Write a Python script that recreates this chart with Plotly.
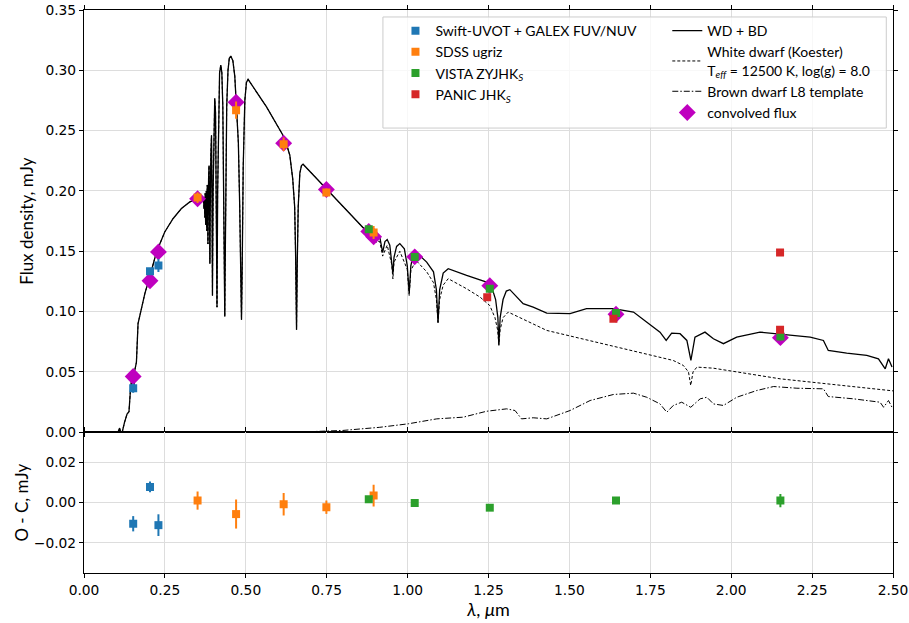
import plotly.graph_objects as go

# ---------------- data ----------------
# Observed photometry (wavelength in micron, flux in mJy)
swift_lam = [0.152, 0.204, 0.230]
swift_flux = [0.0365, 0.1334, 0.1383]
swift_err = [0.0038, 0.0027, 0.0054]
swift_oc = [-0.0105, 0.0078, -0.0112]

sdss_lam = [0.351, 0.470, 0.617, 0.749, 0.895]
sdss_flux = [0.1945, 0.2670, 0.2388, 0.1987, 0.1655]
sdss_err = [0.0045, 0.0072, 0.0056, 0.0033, 0.0054]
sdss_oc = [0.0010, -0.0057, -0.0008, -0.0023, 0.0035]

vista_lam = [0.880, 1.022, 1.254, 1.644, 2.152]
vista_flux = [0.1682, 0.1452, 0.1190, 0.0988, 0.0794]
vista_err = [0.0010, 0.0010, 0.0010, 0.0012, 0.0033]
vista_oc = [0.0017, -0.0002, -0.0025, 0.0010, 0.0010]

panic_lam = [1.246, 1.636, 2.151, 2.151]
panic_flux = [0.1120, 0.0941, 0.1490, 0.0850]

conv_lam = [0.152, 0.204, 0.230, 0.351, 0.470, 0.617, 0.749, 0.880, 0.895,
            1.022, 1.254, 1.644, 2.152]
conv_flux = [0.0462, 0.1256, 0.1495, 0.1935, 0.2735, 0.2396, 0.2012, 0.1665,
             0.1620, 0.1454, 0.1215, 0.0978, 0.0784]

# Model WD + BD (solid)
tot_lam = [0.105, 0.110, 0.113, 0.118, 0.125, 0.133, 0.139, 0.141, 0.143, 0.148,
           0.150, 0.152, 0.154, 0.156, 0.162, 0.167, 0.177, 0.188, 0.203, 0.224,
           0.2495, 0.275, 0.301, 0.327, 0.3526, 0.365, 0.368, 0.370, 0.371, 0.372,
           0.3735, 0.3745, 0.376, 0.377, 0.378, 0.3795, 0.3805, 0.381, 0.3825, 0.383,
           0.3838, 0.385, 0.3865, 0.388, 0.389, 0.390, 0.392, 0.394, 0.3955, 0.3965,
           0.397, 0.3975, 0.399, 0.401, 0.404, 0.4065, 0.409, 0.4105, 0.411, 0.4115,
           0.413, 0.416, 0.419, 0.4227, 0.426, 0.429, 0.432, 0.434, 0.435, 0.436,
           0.438, 0.441, 0.445, 0.449, 0.4536, 0.460, 0.466, 0.472, 0.477, 0.481,
           0.4845, 0.4867, 0.489, 0.492, 0.497, 0.502, 0.507, 0.564, 0.6206, 0.636,
           0.645, 0.651, 0.654, 0.6568, 0.659, 0.662, 0.667, 0.672, 0.677, 0.729,
           0.750, 0.800, 0.840, 0.860, 0.875, 0.8863, 0.893, 0.9015, 0.907, 0.914,
           0.9229, 0.930, 0.937, 0.945, 0.951, 0.9546, 0.958, 0.966, 0.976, 0.990,
           0.999, 1.0049, 1.010, 1.018, 1.0257, 1.059, 1.080, 1.089, 1.094, 1.099,
           1.110, 1.1255, 1.1824, 1.244, 1.260, 1.272, 1.279, 1.282, 1.286, 1.295,
           1.305, 1.316, 1.357, 1.388, 1.430, 1.502, 1.553, 1.636, 1.698, 1.739,
           1.780, 1.799, 1.816, 1.842, 1.863, 1.8755, 1.888, 1.919, 1.945, 1.976,
           2.017, 2.089, 2.151, 2.192, 2.244, 2.285, 2.300, 2.357, 2.419, 2.455,
           2.476, 2.486, 2.497]
tot_flux = [0.0, 0.0035, 0.0, 0.0, 0.008, 0.015, 0.017, 0.026, 0.033, 0.0456,
            0.040, 0.048, 0.035, 0.050, 0.058, 0.090, 0.1024, 0.1149, 0.1287, 0.1494,
            0.166, 0.177, 0.1854, 0.1909, 0.1937, 0.1935, 0.1923, 0.190, 0.185, 0.195,
            0.178, 0.198, 0.172, 0.200, 0.200, 0.167, 0.200, 0.205, 0.175, 0.156,
            0.180, 0.210, 0.221, 0.180, 0.1398, 0.180, 0.230, 0.246, 0.200, 0.140,
            0.1134, 0.140, 0.200, 0.250, 0.2767, 0.265, 0.200, 0.130, 0.1037, 0.130,
            0.200, 0.270, 0.298, 0.3043, 0.298, 0.270, 0.200, 0.130, 0.096, 0.130,
            0.200, 0.270, 0.300, 0.310, 0.3118, 0.308, 0.295, 0.270, 0.240, 0.190,
            0.130, 0.0933, 0.140, 0.220, 0.275, 0.290, 0.2925, 0.2697, 0.2435, 0.2296,
            0.2100, 0.187, 0.146, 0.085, 0.140, 0.187, 0.2147, 0.221, 0.2222, 0.2075,
            0.2014, 0.1875, 0.176, 0.171, 0.166, 0.160, 0.166, 0.157, 0.164, 0.1618,
            0.149, 0.158, 0.1597, 0.155, 0.142, 0.1315, 0.145, 0.154, 0.1564, 0.152,
            0.138, 0.1149, 0.138, 0.148, 0.1494, 0.141, 0.133, 0.118, 0.0905, 0.118,
            0.132, 0.1356, 0.130, 0.1245, 0.1203, 0.110, 0.095, 0.072, 0.095, 0.110,
            0.117, 0.1182, 0.1066, 0.1037, 0.0988, 0.0983, 0.1024, 0.1024, 0.0996, 0.0913,
            0.083, 0.0761, 0.0822, 0.0817, 0.0761, 0.0595, 0.0788, 0.083, 0.0775, 0.0734,
            0.0788, 0.083, 0.0811, 0.0803, 0.0788, 0.0761, 0.0678, 0.0656, 0.0637, 0.0609,
            0.0526, 0.0609, 0.054]

# White dwarf model (dashed): long-wavelength part (short part equals the total)
wd_lam_ir = [0.900, 0.914, 0.9229, 0.937, 0.951, 0.9546, 0.958, 0.976, 0.999, 1.0049,
             1.010, 1.0257, 1.059, 1.080, 1.089, 1.094, 1.099, 1.110, 1.1255, 1.182,
             1.224, 1.254, 1.270, 1.278, 1.282, 1.286, 1.295, 1.311, 1.430, 1.636,
             1.821, 1.852, 1.868, 1.875, 1.882, 1.894, 1.945, 2.151, 2.500]
wd_flux_ir = [0.159, 0.158, 0.146, 0.155, 0.139, 0.127, 0.141, 0.150, 0.135, 0.1134,
              0.134, 0.1425, 0.133, 0.124, 0.110, 0.0913, 0.110, 0.122, 0.1273, 0.119,
              0.112, 0.105, 0.095, 0.085, 0.0728, 0.085, 0.095, 0.0996, 0.0844, 0.0711,
              0.0595, 0.0554, 0.050, 0.0388, 0.050, 0.054, 0.0531, 0.0443, 0.0343]

# Brown dwarf L8 template (dash-dot)
bd_lam = [0.550, 0.700, 0.800, 0.914, 1.002, 1.090, 1.172, 1.244, 1.306, 1.332,
          1.352, 1.388, 1.430, 1.502, 1.564, 1.636, 1.698, 1.739, 1.780, 1.801,
          1.821, 1.847, 1.875, 1.904, 1.925, 1.945, 1.976, 2.017, 2.079, 2.131,
          2.203, 2.285, 2.300, 2.378, 2.460, 2.471, 2.486, 2.497]
bd_flux = [0.0, 0.0005, 0.0015, 0.0041, 0.0070, 0.0111, 0.0125, 0.0174, 0.0194, 0.0180,
           0.0111, 0.0120, 0.0111, 0.0180, 0.0263, 0.0313, 0.0324, 0.0290, 0.0235, 0.0166,
           0.0222, 0.0249, 0.0207, 0.0277, 0.0290, 0.0235, 0.0222, 0.0290, 0.0346, 0.0379,
           0.0365, 0.0360, 0.0296, 0.0277, 0.0249, 0.0207, 0.0263, 0.0207]

x_ticks = [0.0, 0.25, 0.5, 0.75, 1.0, 1.25, 1.5, 1.75, 2.0, 2.25, 2.5]

# ---------------- figure ----------------
C_BLUE, C_ORANGE, C_GREEN, C_RED, C_MAG = "#1f77b4", "#ff7f0e", "#2ca02c", "#d62728", "#bf00bf"

wd_lam = [l for l in tot_lam if l < 0.9] + wd_lam_ir
wd_flux = [f for l, f in zip(tot_lam, tot_flux) if l < 0.9] + wd_flux_ir

fig = go.Figure()

# model lines
fig.add_trace(go.Scatter(x=bd_lam, y=bd_flux, mode="lines", name="Brown dwarf L8 template",
                         line=dict(color="black", width=1, dash="6px,2px,1.5px,2px"),
                         legend="legend2", legendrank=3))
fig.add_trace(go.Scatter(x=wd_lam, y=wd_flux, mode="lines",
                         name="White dwarf (Koester)<br>T<sub><i>eff</i></sub> = 12500 K, log(g) = 8.0",
                         line=dict(color="black", width=1, dash="3px,2px"),
                         legend="legend2", legendrank=2))
fig.add_trace(go.Scatter(x=tot_lam, y=tot_flux, mode="lines", name="WD + BD",
                         line=dict(color="black", width=1.3),
                         legend="legend2", legendrank=1))
# convolved flux
fig.add_trace(go.Scatter(x=conv_lam, y=conv_flux, mode="markers", name="convolved flux",
                         marker=dict(symbol="diamond", size=13, color=C_MAG),
                         legend="legend2", legendrank=4))

# observations (top)
def obs(lam, flux, err, color, name, rank):
    return go.Scatter(x=lam, y=flux, mode="markers", name=name,
                      marker=dict(symbol="square", size=8, color=color),
                      error_y=dict(type="data", array=err, visible=True, color=color,
                                   thickness=2, width=0),
                      legend="legend", legendrank=rank)

fig.add_trace(obs(swift_lam, swift_flux, swift_err, C_BLUE, "Swift-UVOT + GALEX FUV/NUV", 1))
fig.add_trace(obs(sdss_lam, sdss_flux, sdss_err, C_ORANGE, "SDSS ugriz", 2))
fig.add_trace(obs(vista_lam, vista_flux, vista_err, C_GREEN, "VISTA ZYJHK<sub><i>S</i></sub>", 3))
fig.add_trace(go.Scatter(x=panic_lam, y=panic_flux, mode="markers", name="PANIC JHK<sub><i>S</i></sub>",
                         marker=dict(symbol="square", size=8, color=C_RED),
                         legend="legend", legendrank=4))

# residuals (bottom)
for lam, oc, err, col in [(swift_lam, swift_oc, swift_err, C_BLUE),
                          (sdss_lam, sdss_oc, sdss_err, C_ORANGE),
                          (vista_lam, vista_oc, vista_err, C_GREEN)]:
    fig.add_trace(go.Scatter(x=lam, y=oc, mode="markers", showlegend=False,
                             marker=dict(symbol="square", size=8, color=col),
                             error_y=dict(type="data", array=err, visible=True, color=col,
                                          thickness=2, width=0),
                             xaxis="x2", yaxis="y2"))

tickfont = dict(family="DejaVu Sans", size=13.8, color="black")
axis_common = dict(showline=True, linecolor="black", linewidth=1.2, mirror="ticks",
                   ticks="outside", ticklen=4, tickwidth=1, tickcolor="black",
                   showgrid=True, gridcolor="#dddddd", gridwidth=1.2, zeroline=False,
                   tickfont=tickfont, automargin=False, ticklabeloverflow="allow")

fig.update_layout(
    width=909, height=623,
    margin=dict(l=84.3, r=16.3, t=10, b=50.3, autoexpand=False),
    paper_bgcolor="white", plot_bgcolor="white",
    showlegend=True,
    xaxis=dict(domain=[0, 1], anchor="y", range=[0, 2.5], tickvals=x_ticks,
               showticklabels=False, matches="x2", **axis_common),
    yaxis=dict(domain=[0.25, 1], anchor="x", range=[0, 0.35], dtick=0.05, tick0=0,
               tickformat=".2f",
               title=dict(text="Flux density, mJy", font=dict(family="Lato", size=17, color="black"),
                          standoff=7),
               **axis_common),
    xaxis2=dict(domain=[0, 1], anchor="y2", range=[0, 2.5], tickvals=x_ticks,
                tickformat=".2f",
                title=dict(text="<i>λ</i>, <i>μ</i>m", font=dict(family="Lato", size=18, color="black"),
                           standoff=5),
                **axis_common),
    yaxis2=dict(domain=[0, 0.25], anchor="x2", range=[-0.035, 0.035],
                tickvals=[-0.02, 0.0, 0.02], tickformat=".2f",
                title=dict(text="O - C, mJy", font=dict(family="Lato", size=17, color="black"),
                           standoff=0),
                **axis_common),
    legend=dict(x=0.385, y=0.991, xanchor="left", yanchor="top", bgcolor="rgba(0,0,0,0)",
                font=dict(family="Lato", size=14, color="black"), tracegroupgap=0,
                itemwidth=30),
    legend2=dict(x=0.721, y=0.991, xanchor="left", yanchor="top", bgcolor="rgba(0,0,0,0)",
                 font=dict(family="Lato", size=14, color="black"), tracegroupgap=0,
                 itemwidth=30),
    shapes=[dict(type="rect", xref="paper", yref="paper", x0=0.3695, x1=0.9917,
                 y0=0.7903, y1=0.9876, line=dict(color="#cccccc", width=1),
                 fillcolor="rgba(255,255,255,0.8)", layer="above")],
)

# remove the default page margin so the figure fills the window exactly
fig.write_html("out.html", config={"displayModeBar": False},
               post_script="document.body.style.margin='0';")
